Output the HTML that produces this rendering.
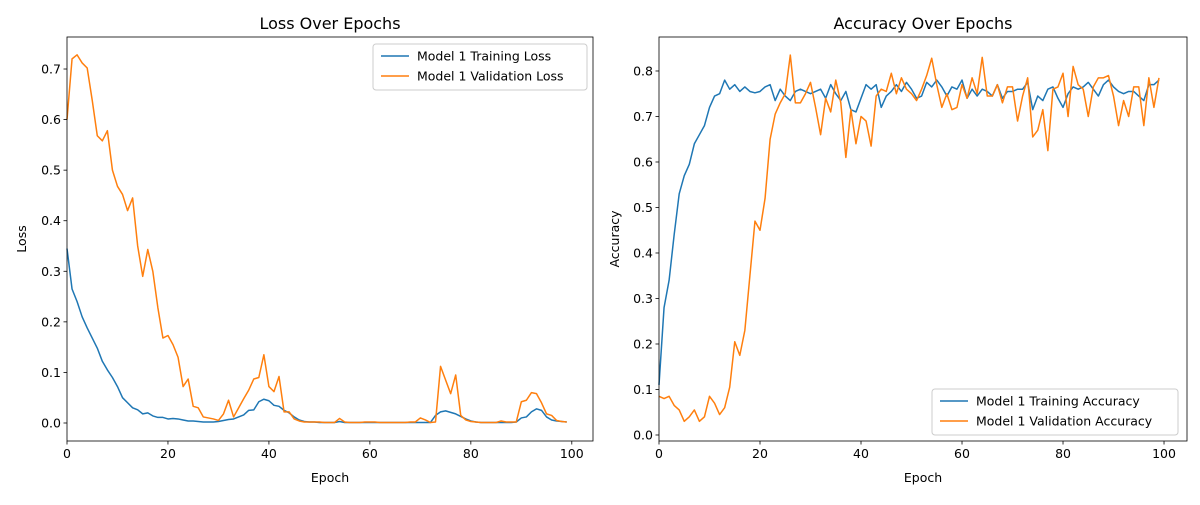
<!DOCTYPE html>
<html><head><meta charset="utf-8"><style>
body{margin:0;background:#fff}
svg text{font-family:"DejaVu Sans","Liberation Sans",sans-serif;fill:#000}
</style></head><body>
<svg id="chart" width="1200" height="500" xmlns="http://www.w3.org/2000/svg"></svg>
<script>
const epochs = Array.from({length:100},(_,i)=>i);
const lossTrain=[0.345,0.265,0.24,0.21,0.188,0.168,0.148,0.122,0.105,0.09,0.072,0.05,0.04,0.03,0.026,0.018,0.02,0.014,0.011,0.011,0.008,0.009,0.008,0.006,0.004,0.004,0.003,0.002,0.002,0.002,0.003,0.005,0.007,0.008,0.012,0.016,0.025,0.026,0.042,0.047,0.044,0.035,0.033,0.025,0.02,0.012,0.006,0.003,0.002,0.002,0.001,0.001,0.001,0.001,0.003,0.001,0.001,0.001,0.001,0.001,0.001,0.001,0.001,0.001,0.001,0.001,0.001,0.001,0.001,0.001,0.001,0.001,0.001,0.015,0.022,0.024,0.021,0.018,0.013,0.008,0.004,0.002,0.001,0.001,0.001,0.001,0.001,0.001,0.001,0.002,0.01,0.012,0.022,0.028,0.025,0.012,0.006,0.004,0.003,0.002];
const lossVal=[0.6,0.72,0.728,0.712,0.702,0.638,0.568,0.558,0.578,0.5,0.468,0.452,0.42,0.445,0.35,0.29,0.343,0.3,0.228,0.168,0.173,0.155,0.13,0.072,0.087,0.033,0.03,0.012,0.01,0.008,0.005,0.018,0.045,0.012,0.03,0.048,0.065,0.087,0.09,0.135,0.072,0.062,0.092,0.022,0.022,0.008,0.004,0.002,0.002,0.002,0.002,0.001,0.001,0.001,0.009,0.002,0.001,0.001,0.001,0.002,0.002,0.002,0.001,0.001,0.001,0.001,0.001,0.001,0.002,0.002,0.01,0.006,0.001,0.002,0.112,0.085,0.058,0.095,0.015,0.006,0.003,0.002,0.001,0.001,0.001,0.001,0.004,0.002,0.002,0.002,0.042,0.045,0.06,0.058,0.04,0.018,0.015,0.005,0.003,0.002];
const accTrain=[0.11,0.28,0.34,0.44,0.53,0.57,0.595,0.64,0.66,0.68,0.72,0.745,0.75,0.78,0.76,0.77,0.755,0.765,0.755,0.752,0.755,0.765,0.77,0.735,0.76,0.745,0.735,0.755,0.76,0.755,0.75,0.755,0.76,0.74,0.77,0.75,0.735,0.755,0.715,0.71,0.74,0.77,0.76,0.77,0.72,0.745,0.755,0.77,0.755,0.775,0.76,0.74,0.745,0.775,0.765,0.78,0.765,0.745,0.765,0.76,0.78,0.74,0.76,0.745,0.76,0.755,0.745,0.77,0.74,0.755,0.755,0.76,0.76,0.775,0.715,0.745,0.735,0.76,0.765,0.74,0.72,0.75,0.765,0.76,0.765,0.775,0.76,0.745,0.77,0.78,0.765,0.755,0.75,0.755,0.755,0.745,0.735,0.77,0.77,0.78];
const accVal=[0.085,0.08,0.085,0.065,0.055,0.03,0.04,0.055,0.03,0.04,0.085,0.07,0.045,0.06,0.105,0.205,0.175,0.23,0.35,0.47,0.45,0.52,0.65,0.705,0.73,0.75,0.835,0.73,0.73,0.75,0.775,0.72,0.66,0.74,0.71,0.78,0.73,0.61,0.715,0.64,0.7,0.69,0.635,0.745,0.76,0.755,0.795,0.75,0.785,0.76,0.75,0.735,0.76,0.79,0.828,0.77,0.72,0.75,0.715,0.72,0.77,0.74,0.785,0.75,0.83,0.745,0.745,0.77,0.73,0.765,0.765,0.69,0.745,0.785,0.655,0.67,0.715,0.625,0.76,0.765,0.795,0.7,0.81,0.77,0.76,0.7,0.765,0.785,0.785,0.79,0.745,0.68,0.735,0.7,0.765,0.765,0.68,0.785,0.72,0.785];
const xTicks=[0,20,40,60,80,100];
const lossTicks=[0,0.1,0.2,0.3,0.4,0.5,0.6,0.7];
const accTicks=[0,0.1,0.2,0.3,0.4,0.5,0.6,0.7,0.8];

const svg=document.getElementById('chart');
const NS='http://www.w3.org/2000/svg';
function mk(tag,attrs,parent){const e=document.createElementNS(NS,tag);for(const k in attrs)e.setAttribute(k,attrs[k]);(parent||svg).appendChild(e);return e;}

function panel(cfg){
  const g=mk('g',{});
  
  
  const L=cfg.left,R=cfg.right,T=37,B=441;
  const xs=v=>L+(v-cfg.xmin)*(R-L)/(cfg.xmax-cfg.xmin);
  const ys=v=>B-(v-cfg.ymin)*(B-T)/(cfg.ymax-cfg.ymin);
  cfg.series.forEach(s=>{
    const p=mk('polyline',{points:s.data.map((v,i)=>xs(epochs[i])+','+ys(v)).join(' '),fill:'none',stroke:s.color,'stroke-width':1.5,'stroke-linejoin':'round'},g);
    
    
  });
  const fr=mk('rect',{x:L,y:T,width:R-L,height:B-T,fill:'none',stroke:'#000','stroke-width':0.8},g);
  
  
  xTicks.forEach(t=>{
    const x=xs(t);
    mk('line',{x1:x,y1:B,x2:x,y2:B+3.5,stroke:'#000','stroke-width':0.8},g);
    const tx=mk('text',{x:x,y:B+17,'font-size':12.5,'text-anchor':'middle'},g);
    tx.textContent=String(t);
    
    
  });
  cfg.yTicks.forEach(t=>{
    const y=ys(t);
    mk('line',{x1:L-3.5,y1:y,x2:L,y2:y,stroke:'#000','stroke-width':0.8},g);
    const tx=mk('text',{x:L-6,y:y+4.5,'font-size':12.5,'text-anchor':'end'},g);
    tx.textContent=t.toFixed(1);
    
    
  });
  const ti=mk('text',{x:(L+R)/2,y:29,'font-size':16,'text-anchor':'middle'},g);
  ti.textContent=cfg.title;
  
  
  const xl=mk('text',{x:(L+R)/2,y:482,'font-size':12.5,'text-anchor':'middle'},g);
  xl.textContent='Epoch';
  
  
  const yl=mk('text',{x:0,y:0,'font-size':12.5,'text-anchor':'middle',transform:`translate(${cfg.ylabX},${(T+B)/2}) rotate(-90)`},g);
  yl.textContent=cfg.ylabel;
  
  
  const lg=mk('g',{},g);
  
  
  const lb=cfg.legend;
  mk('rect',{x:lb.x,y:lb.y,width:lb.w,height:46,rx:3,fill:'#fff','fill-opacity':0.8,stroke:'#ccc','stroke-width':1},lg);
  cfg.series.forEach((s,i)=>{
    const yy=lb.y+12+i*20;
    mk('line',{x1:lb.x+8,y1:yy,x2:lb.x+36,y2:yy,stroke:s.color,'stroke-width':1.5},lg);
    const t=mk('text',{x:lb.x+44,y:yy+4.5,'font-size':12.5},lg);
    t.textContent=s.label;
    
    
  });
}
panel({name:'loss-panel',left:67,right:593,xmin:0,xmax:104.2,ymin:-0.0356,ymax:0.7633,yTicks:lossTicks,title:'Loss Over Epochs',ylabel:'Loss',ylabX:26,
  legend:{x:373,y:44,w:214},
  series:[{id:'train-loss-line',data:lossTrain,color:'#1f77b4',label:'Model 1 Training Loss'},{id:'val-loss-line',data:lossVal,color:'#ff7f0e',label:'Model 1 Validation Loss'}]});
panel({name:'accuracy-panel',left:659,right:1187,xmin:0,xmax:104.55,ymin:-0.0132,ymax:0.8747,yTicks:accTicks,title:'Accuracy Over Epochs',ylabel:'Accuracy',ylabX:619,
  legend:{x:932,y:389,w:246},
  series:[{id:'train-acc-line',data:accTrain,color:'#1f77b4',label:'Model 1 Training Accuracy'},{id:'val-acc-line',data:accVal,color:'#ff7f0e',label:'Model 1 Validation Accuracy'}]});
</script>
</body></html>
